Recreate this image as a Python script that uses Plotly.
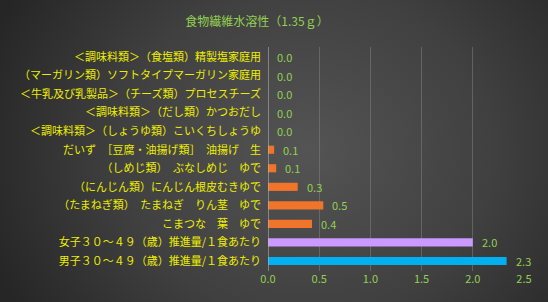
import base64
import plotly.graph_objects as go

categories = [
    "＜調味料類＞（食塩類）精製塩家庭用",
    "（マーガリン類）ソフトタイプマーガリン家庭用",
    "＜牛乳及び乳製品＞（チーズ類）プロセスチーズ",
    "＜調味料類＞（だし類）かつおだし",
    "＜調味料類＞（しょうゆ類）こいくちしょうゆ",
    "だいず　［豆腐・油揚げ類］　油揚げ　生",
    "（しめじ類）　ぶなしめじ　ゆで",
    "（にんじん類）にんじん根皮むきゆで",
    "（たまねぎ類）　たまねぎ　りん茎　ゆで",
    "こまつな　葉　ゆで",
    "女子３０～４９（歳）推進量/１食あたり",
    "男子３０～４９（歳）推進量/１食あたり",
]
values = [0.0, 0.0, 0.0, 0.0, 0.0, 0.06, 0.08, 0.29, 0.54, 0.43, 2.0, 2.33]
bar_colors = ["#F0742A"] * 10 + ["#CC99FF", "#00B0F0"]
x_ticks = [0.0, 0.5, 1.0, 1.5, 2.0, 2.5]
title_text = "食物繊維水溶性（1.35ｇ）"

W, H = 548, 302
ML, MR, MT, MB = 268, 24, 47, 31
pw, ph = W - ML - MR, H - MT - MB

svg = f'''<svg xmlns="http://www.w3.org/2000/svg" width="{W}" height="{H}" viewBox="0 0 {W} {H}" preserveAspectRatio="none">
<defs><radialGradient id="g" cx="0.56" cy="0.5" r="0.62" gradientTransform="translate(0.56 0.5) scale(1 1.6) translate(-0.56 -0.5)">
<stop offset="0" stop-color="#545454"/><stop offset="0.55" stop-color="#404040"/><stop offset="1" stop-color="#262626"/></radialGradient></defs>
<rect width="{W}" height="{H}" fill="url(#g)"/></svg>'''
src = "data:image/svg+xml;base64," + base64.b64encode(svg.encode()).decode()

font = "Noto Sans CJK JP, Noto Sans, sans-serif"

fig = go.Figure()
fig.add_trace(go.Bar(
    y=categories, x=values, orientation="h",
    marker=dict(color=bar_colors, line=dict(width=0)),
    width=0.44, hoverinfo="skip",
))

for c, v in zip(categories, values):
    fig.add_annotation(x=v, y=c, text=f"{v:.1f}", xanchor="left", xshift=7,
                       showarrow=False, font=dict(color="#92D050", size=11, family=font))

fig.update_layout(
    width=W, height=H,
    margin=dict(l=ML, r=MR, t=MT, b=MB),
    paper_bgcolor="#3a3a3a", plot_bgcolor="rgba(0,0,0,0)",
    showlegend=False,
    title=dict(text=title_text, x=257 / W, xanchor="center", y=1 - 22 / H, yanchor="middle",
               font=dict(color="#92D050", size=12, family=font)),
    images=[dict(source=src, xref="paper", yref="paper",
                 x=-ML / pw, y=1 + MT / ph, sizex=W / pw, sizey=H / ph,
                 xanchor="left", yanchor="top", sizing="stretch", layer="below")],
    xaxis=dict(range=[0, 2.5], tickvals=x_ticks, ticktext=[f"{t:.1f}" for t in x_ticks],
               showgrid=True, gridcolor="rgba(140,140,140,0.45)", gridwidth=1,
               zeroline=False, showline=False,
               tickfont=dict(color="#92D050", size=11, family=font), ticks=""),
    yaxis=dict(autorange="reversed", showgrid=False, zeroline=False,
               showline=False, ticks="", ticklabelstandoff=6,
               tickfont=dict(color="#EEEE00", size=11, family=font)),
)
fig.add_shape(type="line", xref="x", yref="paper", x0=0, x1=0, y0=0, y1=1,
              line=dict(color="#BFBFBF", width=1))

fig.write_html("out.html")
